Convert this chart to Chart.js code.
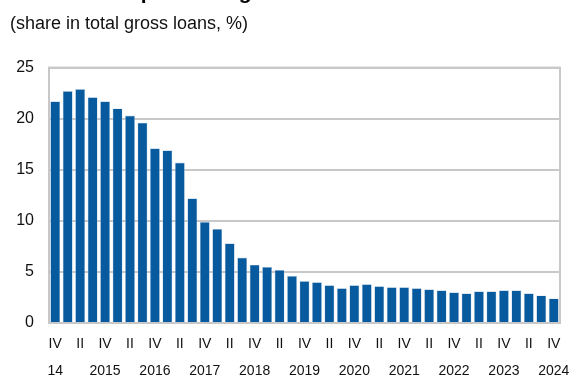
<!DOCTYPE html>
<html>
<head>
<meta charset="utf-8">
<script src="https://cdn.jsdelivr.net/npm/chart.js@4.4.1/dist/chart.umd.min.js"></script>
<style>
  html, body { margin: 0; padding: 0; background: #fff; }
  #wrap { width: 569px; height: 379px; position: relative; }
</style>
</head>
<body>
<div id="wrap"><canvas id="nplChart"></canvas></div>
<script>
// quarterly periods, end-2014 to end-2024
const periods = [
    '2014 Q4',
    '2015 Q1', '2015 Q2', '2015 Q3', '2015 Q4',
    '2016 Q1', '2016 Q2', '2016 Q3', '2016 Q4',
    '2017 Q1', '2017 Q2', '2017 Q3', '2017 Q4',
    '2018 Q1', '2018 Q2', '2018 Q3', '2018 Q4',
    '2019 Q1', '2019 Q2', '2019 Q3', '2019 Q4',
    '2020 Q1', '2020 Q2', '2020 Q3', '2020 Q4',
    '2021 Q1', '2021 Q2', '2021 Q3', '2021 Q4',
    '2022 Q1', '2022 Q2', '2022 Q3', '2022 Q4',
    '2023 Q1', '2023 Q2', '2023 Q3', '2023 Q4',
    '2024 Q1', '2024 Q2', '2024 Q3', '2024 Q4'
];

// NPL share in total gross loans, %
const nplShare = [
    21.7,
    22.7, 22.9, 22.1, 21.7,
    21.0, 20.3, 19.6, 17.1,
    16.9, 15.7, 12.2, 9.9,
    9.2, 7.8, 6.4, 5.7,
    5.5, 5.2, 4.6, 4.1,
    4.0, 3.7, 3.4, 3.7,
    3.8, 3.6, 3.5, 3.5,
    3.4, 3.3, 3.2, 3.0,
    2.9, 3.1, 3.1, 3.2,
    3.2, 2.9, 2.7, 2.4
];

// labels under the Q4 bars
const yearLabels = ['14', '2015', '2016', '2017', '2018', '2019', '2020', '2021', '2022', '2023', '2024'];

const quarterNames = { Q1: 'I', Q2: 'II', Q3: 'III', Q4: 'IV' };

const barBlue = '#075a9e';
const gridGrey = '#c8c8c8';

// bold heading sitting above the canvas top edge
const headingPlugin = {
    id: 'heading',
    afterDraw(chart) {
        const c = chart.ctx;
        c.save();
        c.font = "bold 21px 'Liberation Sans', Arial, sans-serif";
        c.fillStyle = '#000';
        c.textBaseline = 'alphabetic';
        c.fillText('Non-performing loans', 93, -1);
        c.restore();
    }
};

// grey frame round the plot area
const framePlugin = {
    id: 'frame',
    beforeDatasetsDraw(chart) {
        const { ctx, chartArea: a } = chart;
        ctx.save();
        ctx.strokeStyle = gridGrey;
        ctx.lineWidth = 2;
        ctx.strokeRect(a.left, a.top, a.right - a.left, a.bottom - a.top);
        ctx.restore();
    }
};

new Chart(document.getElementById('nplChart'), {
    type: 'bar',
    data: {
        labels: periods,
        datasets: [{
            data: nplShare,
            backgroundColor: barBlue,
            borderColor: '#b9cfe3',
            borderWidth: 0.6,
            categoryPercentage: 1.0,
            barPercentage: 0.8
        }]
    },
    options: {
        responsive: true,
        maintainAspectRatio: false,
        animation: false,
        layout: { padding: { left: 10, right: 9, top: 0, bottom: 0 } },
        plugins: {
            legend: { display: false },
            tooltip: { enabled: false },
            subtitle: {
                display: true,
                text: '(share in total gross loans, %)',
                align: 'start',
                color: '#111',
                font: { family: "'Liberation Sans', Arial, sans-serif", size: 18, weight: 'normal', lineHeight: 1.2 },
                padding: { top: 13, bottom: 33 }
            }
        },
        scales: {
            x: {
                afterFit: function(scale) {
                    scale.height = 56;
                    scale.paddingLeft = 0;
                    scale.paddingRight = 0;
                },
                grid: { display: false, drawTicks: false },
                border: { display: false },
                ticks: {
                    autoSkip: false,
                    maxRotation: 0,
                    padding: 8,
                    color: '#111',
                    font: { family: "'Liberation Sans', Arial, sans-serif", size: 14, lineHeight: 1.9 },
                    callback: function(value, index) {
                        const p = periods[index];
                        const q = quarterNames[p.slice(5)];
                        if (q === 'IV') {
                            return ['IV', yearLabels[Number(p.slice(0, 4)) - 2014]];
                        }
                        if (q === 'II') {
                            return ['II', ''];
                        }
                        return '';
                    }
                }
            },
            y: {
                min: 0,
                max: 25,
                afterFit: function(scale) { scale.width = 39; },
                grid: { color: gridGrey, lineWidth: 2, drawTicks: false },
                border: { display: false },
                ticks: {
                    stepSize: 5,
                    padding: 15,
                    color: '#111',
                    font: { family: "'Liberation Sans', Arial, sans-serif", size: 16 }
                }
            }
        }
    },
    plugins: [headingPlugin, framePlugin]
});
</script>
</body>
</html>
